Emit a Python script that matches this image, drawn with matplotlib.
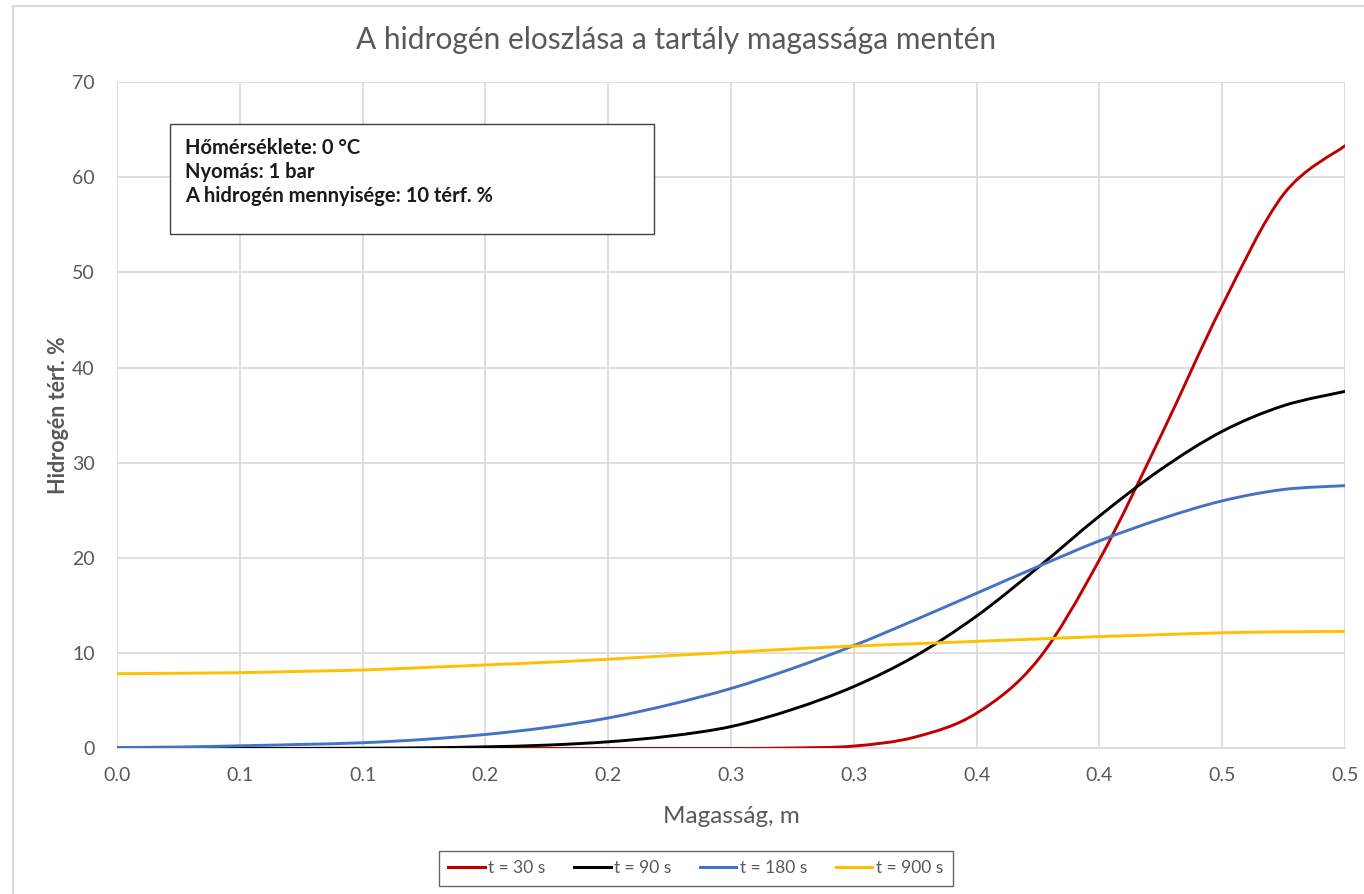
import numpy as np
import matplotlib

matplotlib.use("Agg")
import matplotlib.pyplot as plt
from matplotlib.path import Path
from matplotlib.patches import PathPatch, Rectangle
from matplotlib.lines import Line2D

plt.rcParams.update({"font.family": ["Lato", "DejaVu Sans"]})

GREY_TXT = "#595959"
GRID = "#D9D9D9"

# height along the tank (m) and hydrogen concentration (vol. %) at each time
height = [0.0, 0.025, 0.05, 0.075, 0.1, 0.125, 0.15, 0.175, 0.2, 0.225, 0.25,
          0.275, 0.3, 0.325, 0.35, 0.375, 0.4, 0.425, 0.45, 0.475, 0.5]
h2_30s = [0.0, 0.0, 0.0, 0.0, 0.0, 0.0, 0.0, 0.0, 0.0, 0.0, 0.0,
          0.05, 0.25, 1.2, 3.7, 9.3, 19.8, 32.8, 46.5, 58.2, 63.3]
h2_90s = [0.0, 0.0, 0.0, 0.01, 0.03, 0.07, 0.17, 0.35, 0.7, 1.3, 2.3,
          4.1, 6.5, 9.7, 13.9, 19.0, 24.4, 29.3, 33.3, 36.0, 37.5]
h2_180s = [0.1, 0.15, 0.28, 0.42, 0.6, 0.95, 1.47, 2.2, 3.2, 4.6, 6.3,
           8.4, 10.8, 13.5, 16.3, 19.1, 21.8, 24.1, 26.0, 27.2, 27.6]
h2_900s = [7.85, 7.9, 7.96, 8.1, 8.24, 8.5, 8.77, 9.05, 9.37, 9.75, 10.1,
           10.45, 10.75, 11.0, 11.25, 11.5, 11.75, 11.95, 12.15, 12.25, 12.3]

series = [
    ("t = 30 s", h2_30s, "#C00000"),
    ("t = 90 s", h2_90s, "#000000"),
    ("t = 180 s", h2_180s, "#4472C4"),
    ("t = 900 s", h2_900s, "#FFC000"),
]

x_ticks = [0.0, 0.05, 0.1, 0.15, 0.2, 0.25, 0.3, 0.35, 0.4, 0.45, 0.5]
x_ticklabels = ["0.0", "0.1", "0.1", "0.2", "0.2", "0.3", "0.3", "0.4", "0.4", "0.5", "0.5"]
y_ticks = [0, 10, 20, 30, 40, 50, 60, 70]

conditions = ["Hőmérséklete: 0 °C", "Nyomás: 1 bar", "A hidrogén mennyisége: 10 térf. %"]


def smooth_path(x, y, tension=1 / 6):
    """Catmull-Rom style cubic Bezier through the points (like a smoothed line)."""
    pts = np.column_stack([np.asarray(x, float), np.asarray(y, float)])
    verts = [pts[0]]
    codes = [Path.MOVETO]
    n = len(pts)
    for i in range(n - 1):
        p0 = pts[i - 1] if i > 0 else pts[i]
        p1 = pts[i]
        p2 = pts[i + 1]
        p3 = pts[i + 2] if i + 2 < n else pts[i + 1]
        c1 = p1 + (p2 - p0) * tension
        c2 = p2 - (p3 - p1) * tension
        verts += [c1, c2, p2]
        codes += [Path.CURVE4] * 3
    return Path(verts, codes)


fig = plt.figure(figsize=(13.64, 8.94), dpi=100)
ax = fig.add_axes([0.0858, 0.1628, 0.9002, 0.7455])

for name, vals, col in series:
    patch = PathPatch(smooth_path(height, vals), facecolor="none", edgecolor=col,
                      lw=2.1, capstyle="round", joinstyle="round", zorder=3)
    ax.add_patch(patch)

ax.set_xlim(0, 0.5)
ax.set_ylim(0, 70)
ax.set_xticks(x_ticks)
ax.set_xticklabels(x_ticklabels)
ax.set_yticks(y_ticks)
ax.grid(True, color=GRID, lw=1.2, zorder=0)
ax.set_axisbelow(True)
for s in ["top", "right", "left"]:
    ax.spines[s].set_visible(False)
ax.spines["bottom"].set_color(GRID)
ax.spines["bottom"].set_linewidth(1.2)
ax.tick_params(length=0, colors=GREY_TXT, labelsize=14)
ax.tick_params(axis="x", pad=13)
ax.tick_params(axis="y", pad=16)

ax.set_xlabel("Magasság, m", fontsize=17.5, color=GREY_TXT)
ax.xaxis.set_label_coords(0.5, -0.086)
ax.set_ylabel("Hidrogén térf. %", fontsize=15.5, color=GREY_TXT, fontweight="bold")
ax.yaxis.set_label_coords(-0.039, 0.5)
fig.text(0.496, 0.955, "A hidrogén eloszlása a tartály magassága mentén",
         ha="center", va="center", fontsize=21.5, color=GREY_TXT)

# conditions box
ax.add_patch(Rectangle((0.0432, 0.772), 0.3941, 0.165, transform=ax.transAxes,
                       facecolor="white", edgecolor="#404040", lw=1.0, zorder=5))
for i, line in enumerate(conditions):
    ax.text(0.0554, 0.901 - i * 0.036, line, transform=ax.transAxes,
            ha="left", va="center", fontsize=14.5, fontweight="bold",
            color="#1a1a1a", zorder=6)

handles = [Line2D([0], [0], color=c, lw=2.2) for _, _, c in series]
leg = fig.legend(handles, [n for n, _, _ in series], loc="center",
                 bbox_to_anchor=(0.510, 0.029), ncol=4, fontsize=12.5,
                 frameon=True, fancybox=False, edgecolor="#404040",
                 handlelength=2.1, handletextpad=0.2, columnspacing=1.65,
                 borderpad=0.55)
leg.get_frame().set_linewidth(1.0)
for t in leg.get_texts():
    t.set_color(GREY_TXT)

# chart frame edges
fig.add_artist(Line2D([0.0095, 1.0], [0.9935, 0.9935], color="#D9D9D9", lw=1.5,
                      transform=fig.transFigure))
fig.add_artist(Line2D([0.0095, 0.0095], [0.0, 0.9935], color="#D9D9D9", lw=1.5,
                      transform=fig.transFigure))

fig.savefig("out.png", dpi=100, facecolor="white")
